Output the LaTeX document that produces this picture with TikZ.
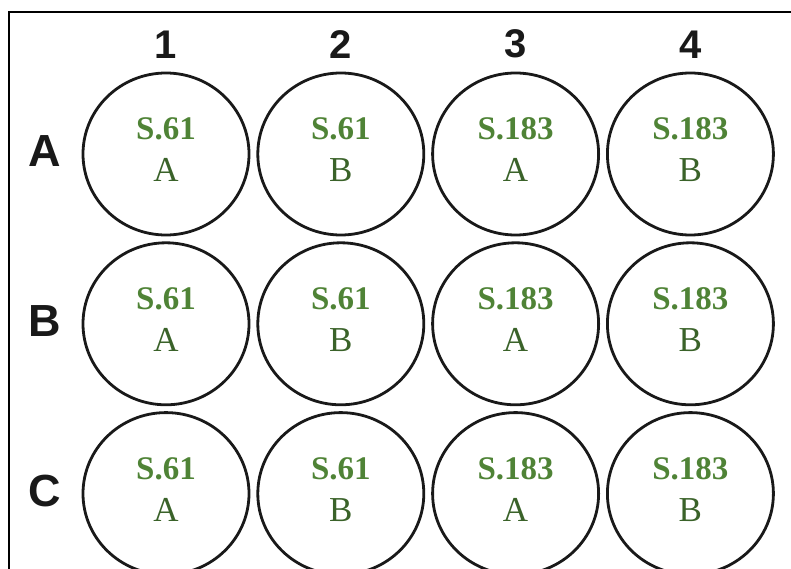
\documentclass[tikz,border=0pt]{standalone}
\usepackage{fontspec}
\setmainfont{Liberation Serif}
\newfontfamily\labelfont{Liberation Sans}
\usetikzlibrary{
    positioning,
    shapes.geometric
}
\definecolor{wellgreen}{HTML}{4F8336}
\definecolor{wellletter}{HTML}{3A6229}
\newcommand{\wellid}[2]{\textbf{#1}\\%
\textcolor{wellletter}{\fontsize{35}{42}\selectfont #2}}

\begin{document}
\begin{tikzpicture}[
x=1pt, y=-1pt,
node distance=5pt and 6pt,
well/.style={
draw=black!90,
ellipse,
line width=2.8pt,
minimum width=166pt,
minimum height=162pt,
inner sep=0pt,
align=center,
text=wellgreen,
text depth=9pt,
font=\fontsize{33}{42}\selectfont
},
rowlabel/.style={
inner sep=0pt,
text=black!90,
font=\labelfont\bfseries\fontsize{45}{45}\selectfont
},
collabel/.style={
inner sep=0pt,
text=black!90,
font=\labelfont\bfseries\fontsize{40}{40}\selectfont
}
]
\useasboundingbox (0,0) rectangle (791,569);

% frame, cut off right and bottom
\draw[line width=1.6pt] (9,580) -- (9,12) -- (800,12);

% row A
\node[well] (A1) at (166,154) {\wellid{S.61}{A}};
\node[well, right=of A1] (A2) {\wellid{S.61}{B}};
\node[well, right=of A2] (A3) {\wellid{S.183}{A}};
\node[well, right=of A3] (A4) {\wellid{S.183}{B}};

% row B
\node[well, below=of A1] (B1) {\wellid{S.61}{A}};
\node[well, right=of B1] (B2) {\wellid{S.61}{B}};
\node[well, right=of B2] (B3) {\wellid{S.183}{A}};
\node[well, right=of B3] (B4) {\wellid{S.183}{B}};

% row C
\node[well, below=of B1] (C1) {\wellid{S.61}{A}};
\node[well, right=of C1] (C2) {\wellid{S.61}{B}};
\node[well, right=of C2] (C3) {\wellid{S.183}{A}};
\node[well, right=of C3] (C4) {\wellid{S.183}{B}};

% column numbers
\node[collabel, above=13pt of A1] (col1) {1};
\node[collabel, above=13pt of A2] (col2) {2};
\node[collabel, above=13pt of A3] (col3) {3};
\node[collabel, above=13pt of A4] (col4) {4};

% row letters
\node[rowlabel, left=20pt of A1, yshift=3pt] (rowA) {A};
\node[rowlabel, left=20pt of B1, yshift=3pt] (rowB) {B};
\node[rowlabel, left=20pt of C1, yshift=3pt] (rowC) {C};

\end{tikzpicture}
\end{document}
